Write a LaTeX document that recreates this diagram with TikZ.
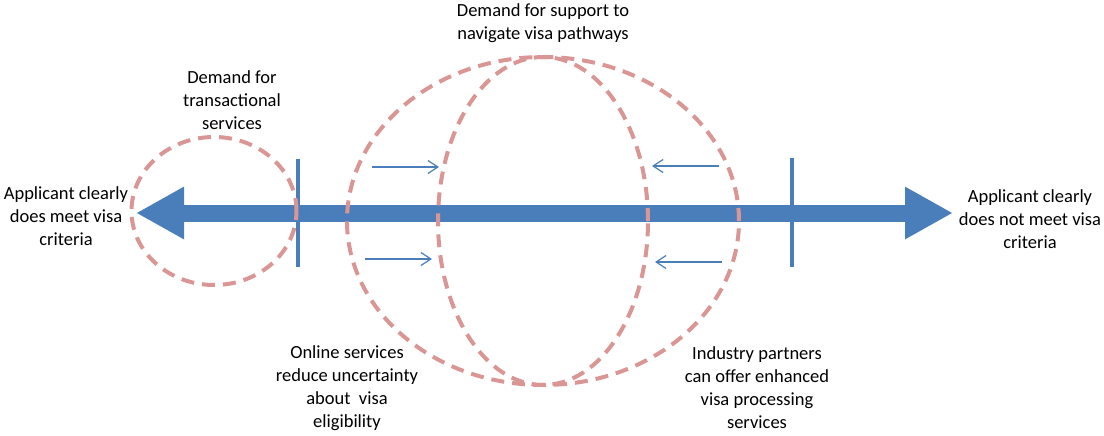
\documentclass[tikz,border=0pt]{standalone}
\usepackage{fontspec}
\setmainfont{Carlito}
\usetikzlibrary{
    arrows.meta
}
\definecolor{axisblue}{RGB}{74,126,187}
\definecolor{demandpink}{RGB}{217,150,148}
\tikzset{
    spectrum/.style={line width=17pt,axisblue,
        {Triangle[length=48pt,width=49pt]}-{Triangle[length=48pt,width=49pt]}},
    limitline/.style={line width=4pt,axisblue},
    demand/.style={line width=4pt,demandpink,dash pattern=on 13pt off 8pt},
    push/.style={line width=1.2pt,axisblue,-{Straight Barb[length=10pt,width=13pt]}},
    caption/.style={align=center,font=\fontsize{18.5}{23}\selectfont,inner sep=0pt}
}

\begin{document}
\begin{tikzpicture}[x=1pt,y=-1pt]
\useasboundingbox (0,0) rectangle (1104,436);

\coordinate (L) at (136,213);
\coordinate (R) at (953,213);
\draw[spectrum] (L) -- (R);

\coordinate (T1a) at (298,159);
\coordinate (T1b) at (298,267);
\coordinate (T2a) at (792,158);
\coordinate (T2b) at (792,267);
\draw[limitline] (T1a) -- (T1b);
\draw[limitline] (T2a) -- (T2b);

\coordinate (C) at (214,211);
\coordinate (S) at (543,221);
\draw[demand] (C) ellipse [x radius=82.5pt,y radius=74pt];
\draw[demand] (S) ellipse [x radius=196pt,y radius=164pt];
\draw[demand] (S) ellipse [x radius=105pt,y radius=164pt];

\coordinate (UL1) at (372,167);
\coordinate (UL2) at (439,167);
\coordinate (LL1) at (365,259);
\coordinate (LL2) at (432,259);
\coordinate (UR1) at (719,166);
\coordinate (UR2) at (652,166);
\coordinate (LR1) at (722,262);
\coordinate (LR2) at (655,262);
\draw[push] (UL1) -- (UL2);
\draw[push] (LL1) -- (LL2);
\draw[push] (UR1) -- (UR2);
\draw[push] (LR1) -- (LR2);

\node[caption] (meet) at (66,216) {Applicant clearly\\does meet visa\\criteria};
\node[caption] (notmeet) at (1030,219) {Applicant clearly\\does not meet visa\\criteria};
\node[caption] (transact) at (232,100) {Demand for\\transactional\\services};
\node[caption] (navigate) at (543,23) {Demand for support to\\navigate visa pathways};
\node[caption] (online) at (347,388) {Online services\\reduce uncertainty\\about\ \ visa\\eligibility};
\node[caption] (partners) at (757,388) {Industry partners\\can offer enhanced\\visa processing\\services};
\end{tikzpicture}
\end{document}
